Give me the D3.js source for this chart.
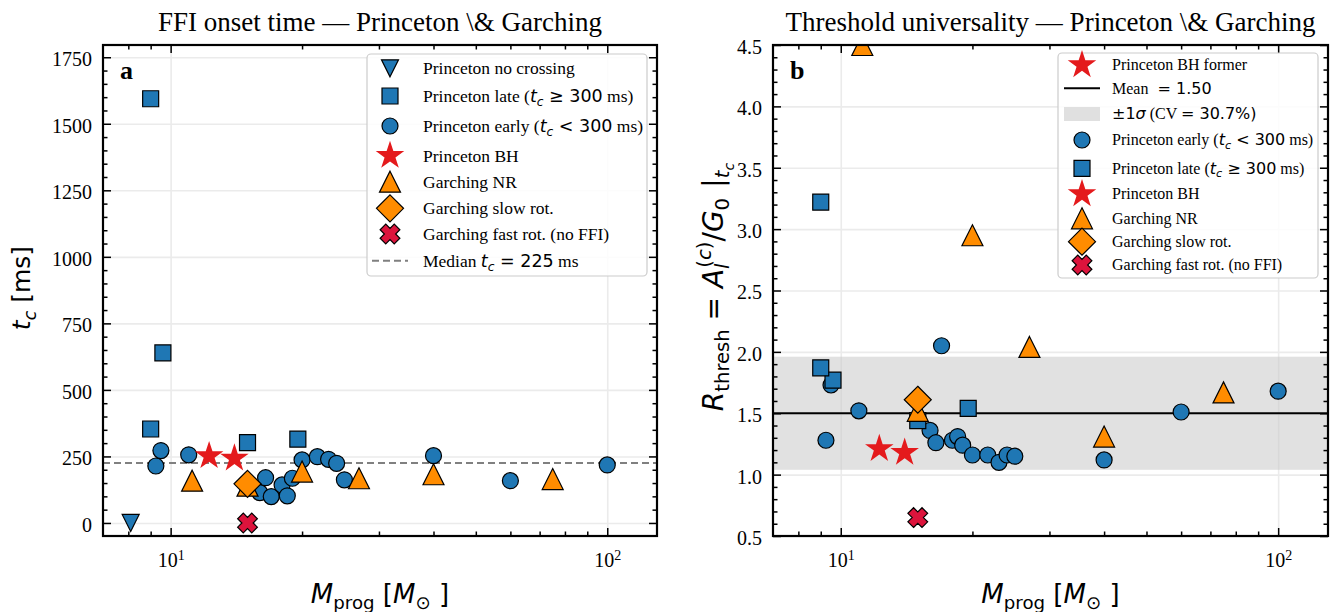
<!DOCTYPE html>
<html>
<head>
<meta charset="utf-8">
<script src="https://cdn.jsdelivr.net/npm/d3@7"></script>
<style>
  body { margin: 0; background: #fff; }
  svg { display: block; }
  text { white-space: pre; }
</style>
</head>
<body>
<svg id="chart" width="1337" height="612"></svg>
<script>
// ---- data ----
const massNoCross = [8.1];
const tcNoCross = [0];

const massLate = [9.0, 9.6, 9.0, 15.0, 19.56];
const tcLate = [1594, 639, 353, 302, 315];
const rLate = [3.22, 1.77, 1.87, 1.44, 1.54];

const massEarly = [9.25, 9.5, 11, 16, 16.5, 17, 18, 18.5, 19, 20, 21.68, 23, 24, 25, 40, 60, 100];
const tcEarly = [214, 272, 256, 114, 170, 99, 143, 102, 168, 237, 249, 239, 224, 162, 253, 159, 218];
const rEarly = [1.28, 1.73, 1.52, 1.36, 1.26, 2.05, 1.28, 1.31, 1.24, 1.16, 1.16, 1.10, 1.16, 1.15, 1.12, 1.51, 1.68];

const massBH = [12.25, 14];
const tcBH = [252, 243];
const rBH = [1.21, 1.18];

const massNR = [11.2, 15, 20, 27, 40, 75];
const tcNR = [159, 140, 193, 168, 183, 165];
const rNR = [4.5, 1.52, 2.95, 2.04, 1.31, 1.67];

const massSlow = [15];
const tcSlow = [147];
const rSlow = [1.61];

const massFast = [15];
const tcFast = [0];
const rFast = [0.65];

const medianTc = 225;
const meanR = 1.50;
const cvR = 0.307;

const xMajor = [10, 100];
const xMinor = [8, 9, 20, 30, 40, 50, 60, 70, 80, 90];
const tcMajor = [0, 250, 500, 750, 1000, 1250, 1500, 1750];
const rMajor = [0.5, 1.0, 1.5, 2.0, 2.5, 3.0, 3.5, 4.0, 4.5];

// ---- style ----
const SERIF = "'Liberation Serif','Times New Roman',serif";
const MATH = "'DejaVu Sans',sans-serif";
const BLUE = "#1f77b4", ORANGE = "#ff8c00", RED = "#e41a1c", CRIMSON = "#dc143c";
const GRID = "#ebebeb";

const svg = d3.select("#chart");

// tiny mathtext-ish renderer: s = serif, mi = math italic, mu = math upright
const S = (t) => ({ t, f: "s" });
const MI = (t, l = 0, dx = 0) => ({ t, f: "mi", l, dx });
const MU = (t, l = 0, dx = 0) => ({ t, f: "mu", l, dx });

function rich(text, segs, size) {
  const shift = { "0": 0, "-1": 0.22, "1": -0.42, "-2": 0.4 };
  const scale = { "0": 1, "-1": 0.7, "1": 0.7, "-2": 0.5 };
  let cur = 0;
  segs.forEach(sg => {
    const l = String(sg.l || 0);
    const target = shift[l] * size;
    const ts = text.append("tspan").text(sg.t)
      .attr("font-family", sg.f === "s" ? SERIF : MATH)
      .attr("font-style", sg.f === "mi" ? "italic" : "normal")
      .attr("font-size", size * scale[l])
      .attr("dy", target - cur);
    if (sg.dx) ts.attr("dx", sg.dx * size);
    cur = target;
  });
}

function markerPath(kind, s) {
  const h = s / 2;
  if (kind === "circle") return d3.symbol(d3.symbolCircle, Math.PI * h * h)();
  if (kind === "square") return d3.symbol(d3.symbolSquare, s * s)();
  if (kind === "tri") return `M0,${-h}L${h},${h}L${-h},${h}Z`;
  if (kind === "tridown") return `M0,${h}L${h},${-h}L${-h},${-h}Z`;
  if (kind === "diamond") return `M0,${-h}L${h},0L0,${h}L${-h},0Z`;
  if (kind === "star") return d3.symbol(d3.symbolStar, h * h / 0.8908130915292852)();
  if (kind === "x") {
    const L = h * 0.95, t = h * 0.38;
    const pts = [[t, L], [t, t], [L, t], [L, -t], [t, -t], [t, -L], [-t, -L], [-t, -t], [-L, -t], [-L, t], [-t, t], [-t, L]];
    const c = Math.SQRT1_2;
    return "M" + pts.map(([a, b]) => [(a - b) * c, (a + b) * c].join(",")).join("L") + "Z";
  }
}

const series = {
  noCross: { kind: "tridown", s: 17, fill: BLUE, stroke: "#000",
    label: [S("Princeton no crossing")] },
  late: { kind: "square", s: 16, fill: BLUE, stroke: "#000",
    label: [S("Princeton late ("), MI("t"), MI("c", -1), MU(" \u2265 300"), S(" ms)")] },
  early: { kind: "circle", s: 16, fill: BLUE, stroke: "#000",
    label: [S("Princeton early ("), MI("t"), MI("c", -1), MU(" < 300"), S(" ms)")] },
  bh: { kind: "star", s: 30, fill: RED, stroke: "none", label: [S("Princeton BH")] },
  nr: { kind: "tri", s: 21, fill: ORANGE, stroke: "#000", label: [S("Garching NR")] },
  slow: { kind: "diamond", s: 27, fill: ORANGE, stroke: "#000", label: [S("Garching slow rot.")] },
  fast: { kind: "x", s: 21, fill: CRIMSON, stroke: "#000", label: [S("Garching fast rot. (no FFI)")] }
};

function drawMarkers(g, x, y, spec, mass, vals) {
  g.append("g").selectAll("path")
    .data(d3.zip(mass, vals))
    .join("path")
    .attr("d", markerPath(spec.kind, spec.s))
    .attr("transform", d => `translate(${x(d[0])},${y(d[1])})`)
    .attr("fill", spec.fill)
    .attr("stroke", spec.stroke)
    .attr("stroke-width", 1.2);
}

function panel(p) {
  const g = svg.append("g");
  const x = d3.scaleLog().domain([7, 130]).range([p.x0, p.x1]);
  const y = d3.scaleLinear().domain(p.yDomain).range([p.y1, p.y0]);

  // grid
  g.append("g").attr("transform", `translate(${p.x0},0)`)
    .call(d3.axisLeft(y).tickValues(p.yMajor).tickSize(-(p.x1 - p.x0)).tickFormat(""))
    .call(a => a.select(".domain").remove())
    .selectAll("line").attr("stroke", GRID).attr("stroke-width", 1.6);
  g.append("g").attr("transform", `translate(0,${p.y1})`)
    .call(d3.axisBottom(x).tickValues(xMajor).tickSize(-(p.y1 - p.y0)).tickFormat(""))
    .call(a => a.select(".domain").remove())
    .selectAll("line").attr("stroke", GRID).attr("stroke-width", 1.6);

  const clipId = "clip" + p.id;
  svg.append("clipPath").attr("id", clipId).append("rect")
    .attr("x", p.x0).attr("y", p.y0).attr("width", p.x1 - p.x0).attr("height", p.y1 - p.y0);
  const plot = g.append("g").attr("clip-path", `url(#${clipId})`);

  p.draw(plot, x, y);

  // ticks (inward, all four sides)
  const styleAxis = a => {
    a.select(".domain").remove();
    a.selectAll("line").attr("stroke", "#000").attr("stroke-width", 1.5);
    a.selectAll("text").attr("font-family", SERIF).attr("font-size", 20).attr("fill", "#000");
  };
  const add = (axis, tr) => g.append("g").attr("transform", tr).call(axis).call(styleAxis);

  const bottom = add(d3.axisBottom(x).tickValues(xMajor).tickSize(-8).tickPadding(17).tickFormat(() => "10"),
    `translate(0,${p.y1})`);
  bottom.selectAll(".tick text").append("tspan")
    .attr("dy", "-0.55em").attr("font-size", 14).text(d => Math.round(Math.log10(d)));
  add(d3.axisBottom(x).tickValues(xMinor).tickSize(-4.5).tickFormat(""), `translate(0,${p.y1})`);
  add(d3.axisTop(x).tickValues(xMajor).tickSize(-8).tickFormat(""), `translate(0,${p.y0})`);
  add(d3.axisTop(x).tickValues(xMinor).tickSize(-4.5).tickFormat(""), `translate(0,${p.y0})`);

  const left = add(d3.axisLeft(y).tickValues(p.yMajor).tickSize(-8).tickPadding(11).tickFormat(p.yFmt),
    `translate(${p.x0},0)`);
  left.selectAll(".tick text").attr("dy", "0.42em");
  add(d3.axisLeft(y).tickValues(p.yMinor).tickSize(-4.5).tickFormat(""), `translate(${p.x0},0)`);
  add(d3.axisRight(y).tickValues(p.yMajor).tickSize(-8).tickFormat(""), `translate(${p.x1},0)`);
  add(d3.axisRight(y).tickValues(p.yMinor).tickSize(-4.5).tickFormat(""), `translate(${p.x1},0)`);

  // frame
  g.append("rect").attr("x", p.x0).attr("y", p.y0)
    .attr("width", p.x1 - p.x0).attr("height", p.y1 - p.y0)
    .attr("fill", "none").attr("stroke", "#000").attr("stroke-width", 2.2);

  // title, panel letter, axis labels
  g.append("text").attr("x", (p.x0 + p.x1) / 2).attr("y", 31)
    .attr("text-anchor", "middle").attr("font-family", SERIF).attr("font-size", 27)
    .text(p.title);
  g.append("text").attr("x", p.x0 + 17).attr("y", p.y0 + 34)
    .attr("font-family", SERIF).attr("font-weight", "bold").attr("font-size", 26)
    .text(p.letter);
  const xl = g.append("text").attr("x", (p.x0 + p.x1) / 2).attr("y", 603).attr("text-anchor", "middle");
  rich(xl, [MI("M"), MU("prog", -1), MU(" ["), MI("M"), MU("\u2299", -1), MU(" ]")], 26);
  const yl = g.append("text").attr("transform", `translate(${p.ylabelX},${p.ylabelY}) rotate(-90)`)
    .attr("text-anchor", "middle");
  rich(yl, p.ylabel, p.ylabelSize);

  // legend
  const lg = g.append("g");
  const b = p.legend;
  lg.append("rect").attr("x", b.x).attr("y", b.y).attr("width", b.w).attr("height", b.h)
    .attr("rx", 4).attr("fill", "#fff").attr("fill-opacity", 0.85)
    .attr("stroke", "#cccccc").attr("stroke-width", 1.2);
  b.items.forEach((it, i) => {
    const cy = b.rows[i];
    const mx = b.x + b.markerDx;
    if (it.line) {
      lg.append("line").attr("x1", mx - 18).attr("x2", mx + 18).attr("y1", cy).attr("y2", cy)
        .attr("stroke", it.color).attr("stroke-width", 2).attr("stroke-dasharray", it.dash || null);
    } else if (it.band) {
      lg.append("rect").attr("x", mx - 18).attr("y", cy - 7).attr("width", 36).attr("height", 14)
        .attr("fill", "#e0e0e0");
    } else {
      lg.append("path").attr("d", markerPath(it.kind, it.s))
        .attr("transform", `translate(${mx},${cy})`)
        .attr("fill", it.fill).attr("stroke", it.stroke).attr("stroke-width", 1.2);
    }
    const t = lg.append("text").attr("x", b.x + b.textDx).attr("y", cy + b.size * 0.34);
    rich(t, it.label, b.size);
  });
}

// ---- panel a ----
panel({
  id: "a", x0: 103, x1: 657, y0: 45, y1: 536,
  yDomain: [-49, 1796], yMajor: tcMajor,
  yMinor: d3.range(50, 1800, 50).filter(v => v % 250 !== 0),
  yFmt: d3.format("d"),
  title: "FFI onset time \u2014 Princeton \\& Garching", letter: "a",
  ylabelX: 30, ylabelY: 288, ylabelSize: 25,
  ylabel: [MI("t"), MI("c", -1), MU(" [ms]")],
  draw: (g, x, y) => {
    g.append("line").attr("x1", x.range()[0]).attr("x2", x.range()[1])
      .attr("y1", y(medianTc)).attr("y2", y(medianTc))
      .attr("stroke", "#808080").attr("stroke-width", 2).attr("stroke-dasharray", "7,4");
    drawMarkers(g, x, y, series.noCross, massNoCross, tcNoCross);
    drawMarkers(g, x, y, series.late, massLate, tcLate);
    drawMarkers(g, x, y, series.early, massEarly, tcEarly);
    drawMarkers(g, x, y, series.bh, massBH, tcBH);
    drawMarkers(g, x, y, series.nr, massNR, tcNR);
    drawMarkers(g, x, y, series.slow, massSlow, tcSlow);
    drawMarkers(g, x, y, series.fast, massFast, tcFast);
  },
  legend: {
    x: 367, y: 54, w: 280, h: 222, markerDx: 23, textDx: 56, size: 17.5,
    rows: [68.3, 96, 126, 155.7, 181.7, 208.3, 234, 260.7],
    items: [series.noCross, series.late, series.early, series.bh, series.nr, series.slow, series.fast,
      { line: true, color: "#808080", dash: "7,4",
        label: [S("Median "), MI("t"), MI("c", -1), MU(" = 225"), S(" ms")] }]
  }
});

// ---- panel b ----
panel({
  id: "b", x0: 773, x1: 1328, y0: 45, y1: 536,
  yDomain: [0.5, 4.5], yMajor: rMajor,
  yMinor: d3.range(6, 45, 1).filter(v => v % 5 !== 0).map(v => v / 10),
  yFmt: d3.format(".1f"),
  title: "Threshold universality \u2014 Princeton \\& Garching", letter: "b",
  ylabelX: 723, ylabelY: 287, ylabelSize: 28,
  ylabel: [MI("R"), MU("thresh", -1), MU(" = "), MI("A"), MI("l", -1), MU("(", 1, -0.15), MI("c", 1), MU(")", 1),
    MU("/"), MI("G"), MU("0", -1), MU(" |", 0, 0.05), MI("t", -1), MI("c", -2)],
  draw: (g, x, y) => {
    const sd = meanR * cvR;
    g.append("rect").attr("x", x.range()[0]).attr("width", x.range()[1] - x.range()[0])
      .attr("y", y(meanR + sd)).attr("height", y(meanR - sd) - y(meanR + sd))
      .attr("fill", "#c8c8c8").attr("fill-opacity", 0.55);
    g.append("line").attr("x1", x.range()[0]).attr("x2", x.range()[1])
      .attr("y1", y(meanR)).attr("y2", y(meanR))
      .attr("stroke", "#000").attr("stroke-width", 2.2);
    drawMarkers(g, x, y, series.early, massEarly, rEarly);
    drawMarkers(g, x, y, series.late, massLate, rLate);
    drawMarkers(g, x, y, series.bh, massBH, rBH);
    drawMarkers(g, x, y, series.nr, massNR, rNR);
    drawMarkers(g, x, y, series.slow, massSlow, rSlow);
    drawMarkers(g, x, y, series.fast, massFast, rFast);
  },
  legend: {
    x: 1058, y: 53, w: 260, h: 225, markerDx: 24, textDx: 54, size: 16,
    rows: [65, 88.3, 114, 140, 168.3, 194, 218.3, 241.7, 265],
    items: [{ ...series.bh, label: [S("Princeton BH former")] },
      { line: true, color: "#000", label: [S("Mean "), MU(" = 1.50")] },
      { band: true, label: [MU("\u00b11"), MI("\u03c3"), S(" (CV "), MU("= 30.7%)")] },
      series.early, series.late, series.bh, series.nr, series.slow, series.fast]
  }
});
</script>
</body>
</html>
